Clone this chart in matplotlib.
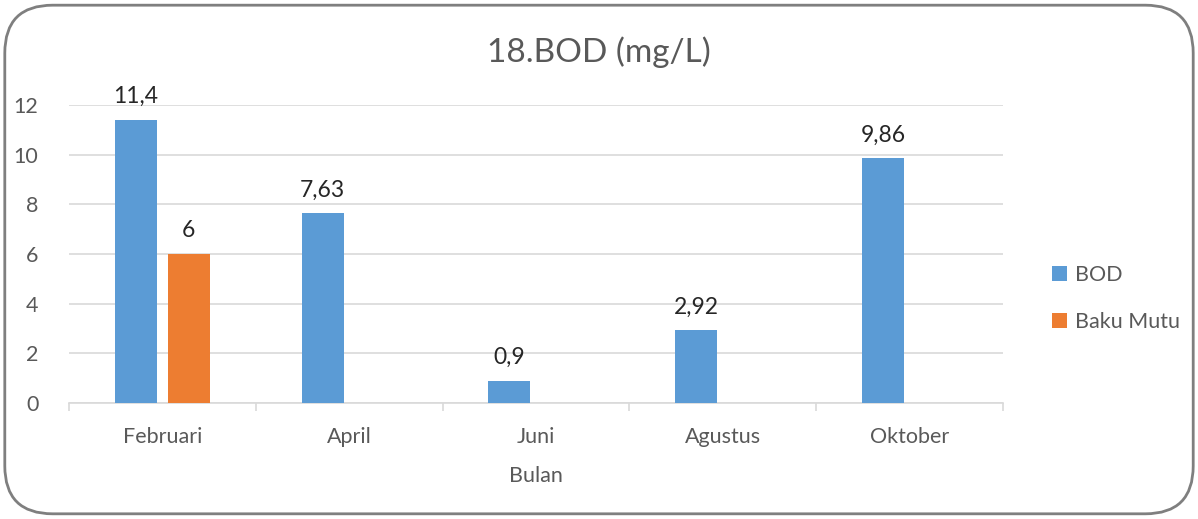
import numpy as np
import matplotlib.pyplot as plt
from matplotlib.patches import FancyBboxPatch

plt.rcParams['font.family'] = ['Lato', 'DejaVu Sans']

bulan = ["Februari", "April", "Juni", "Agustus", "Oktober"]
bod = [11.4, 7.63, 0.9, 2.92, 9.86]
baku_mutu = [6, np.nan, np.nan, np.nan, np.nan]
yticks = [0, 2, 4, 6, 8, 10, 12]

blue = "#5B9BD5"
orange = "#ED7D31"
grey_txt = "#595959"
grid_c = "#D9D9D9"

fig = plt.figure(figsize=(11.98, 5.19), dpi=100)
ax = fig.add_axes([0.0576, 0.2235, 0.7795, 0.5745])

x = np.arange(len(bulan))
w = 0.225
off = 0.142
b1 = ax.bar(x - off, bod, w, color=blue, label="BOD", zorder=3)
b2 = ax.bar(x + off, baku_mutu, w, color=orange, label="Baku Mutu", zorder=3)

def lbl(v):
    return f"{v:g}".replace(".", ",")

for xi, v in zip(x - off, bod):
    ax.text(xi, v + 0.5, lbl(v), ha="center", va="bottom", fontsize=16.5, color="#262626")
for xi, v in zip(x + off, baku_mutu):
    if not np.isnan(v):
        ax.text(xi, v + 0.5, lbl(v), ha="center", va="bottom", fontsize=16.5, color="#262626")

ax.set_xlim(-0.5, len(bulan) - 0.5)
ax.set_ylim(0, 12)
ax.set_yticks(yticks)
ax.set_yticklabels([str(t) for t in yticks])
ax.yaxis.grid(True, color=grid_c, linewidth=1.2, zorder=0)
ax.tick_params(axis="y", length=0, pad=22, labelsize=15.5, labelcolor=grey_txt)

ax.set_xticks(x)
ax.set_xticklabels(bulan)
ax.set_xticks(np.arange(-0.5, len(bulan)), minor=True)
ax.tick_params(axis="x", which="major", length=0, pad=17, labelsize=15.5, labelcolor=grey_txt)
ax.tick_params(axis="x", which="minor", length=6, color=grid_c, width=1.2)

for s in ["top", "right", "left"]:
    ax.spines[s].set_visible(False)
ax.spines["bottom"].set_color(grid_c)
ax.spines["bottom"].set_linewidth(1.2)

ax.set_xlabel("Bulan", fontsize=15.5, color=grey_txt, labelpad=14)

fig.text(0.5, 0.9, "18.BOD (mg/L)", ha="center", va="center", fontsize=24, color=grey_txt)

leg = fig.legend(handles=[b1, b2], labels=["BOD", "Baku Mutu"], loc="center left",
                 bbox_to_anchor=(0.862, 0.424), frameon=False, fontsize=15.5,
                 handlelength=0.7, handleheight=0.7, handletextpad=0.35, labelspacing=1.25)
for t in leg.get_texts():
    t.set_color(grey_txt)

border = FancyBboxPatch((0.004, 0.01), 0.992, 0.98, boxstyle="round,pad=0,rounding_size=0.04",
                        transform=fig.transFigure, fill=False, edgecolor="#7F7F7F",
                        linewidth=2, mutation_aspect=1198 / 519)
fig.patches.append(border)

fig.savefig("out.png", dpi=100)
